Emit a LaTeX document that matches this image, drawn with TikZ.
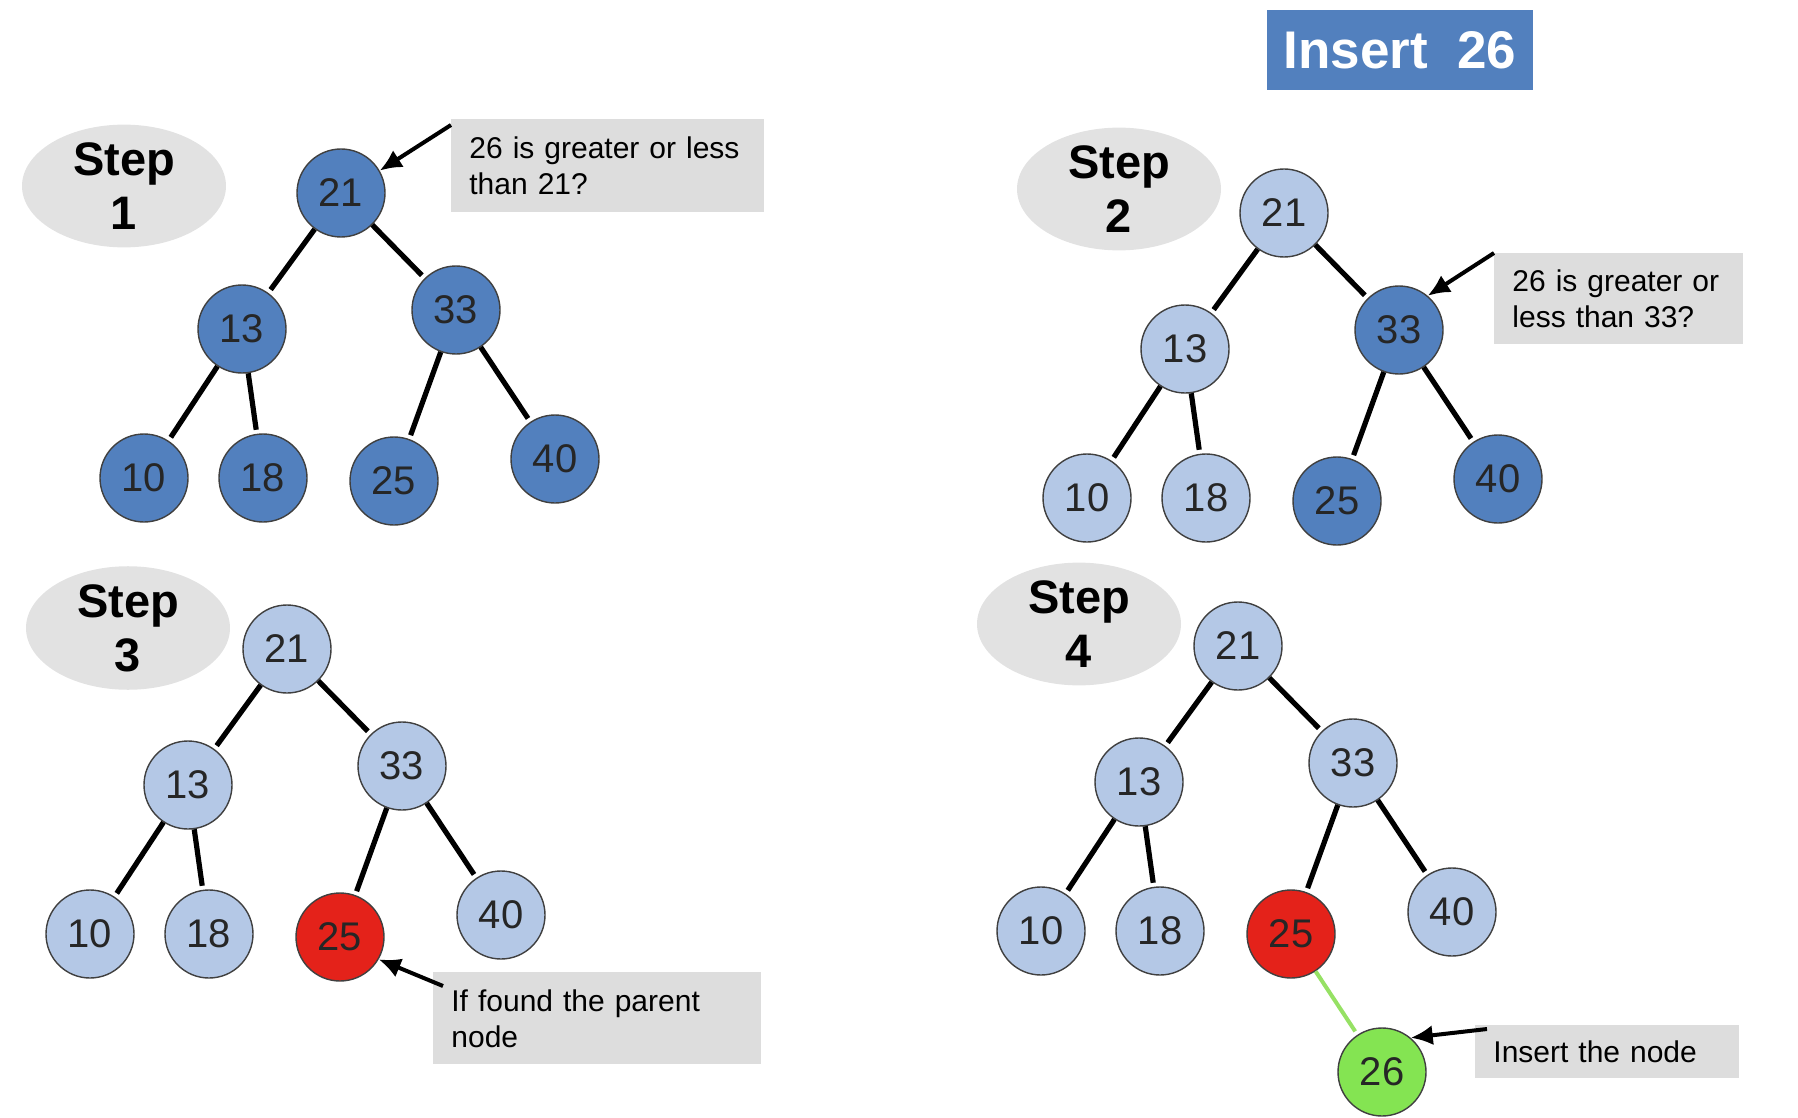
\documentclass[tikz,border=0pt]{standalone}
\usepackage{fontspec}
\setmainfont{Liberation Sans}
\usepackage{tikz}
\usetikzlibrary{
  arrows.meta,
  positioning,
  shapes.geometric
}
\definecolor{treeblue}{RGB}{82,128,190}
\definecolor{paleblue}{RGB}{180,200,230}
\definecolor{keyred}{RGB}{228,34,26}
\definecolor{keygreen}{RGB}{132,228,82}
\definecolor{linkgreen}{RGB}{150,225,100}
\definecolor{notegray}{RGB}{221,221,221}
\definecolor{stepgray}{RGB}{226,226,226}

\begin{document}
\begin{tikzpicture}[x=0.5pt,y=-0.5pt,
  key/.style={circle, draw=black!75, line width=0.7pt, minimum size=44pt,
    inner sep=0pt, text=black!85, font=\fontsize{20}{20}\selectfont},
  edge/.style={line width=2.6pt, shorten >=2pt},
  stepbox/.style={ellipse, fill=stepgray, minimum width=102pt, minimum height=60pt,
    inner sep=0pt, align=center, font=\bfseries\fontsize{23.5}{27}\selectfont},
  note/.style={fill=notegray, anchor=north west, align=left, inner xsep=9pt,
    font=\fontsize{15}{18}\selectfont},
  pointer/.style={-{Latex[length=11pt,width=10pt]}, line width=2pt}
]
  \useasboundingbox (0,0) rectangle (1798,1118);
  % Helper to draw one tree: \bstree{name}{x}{y}{upper colour}{33}{25}{40}
  \newcommand{\bstree}[7]{%
    \begin{scope}[shift={(#2,#3)}]
      \node[key, fill=#4] (#1-21) at (0,0) {21};
      \node[key, fill=#4] (#1-13) at (-99,136) {13};
      \node[key, fill=#5] (#1-33) at (115,117) {33};
      \node[key, fill=#4] (#1-10) at (-197,285) {10};
      \node[key, fill=#4] (#1-18) at (-78,285) {18};
      \node[key, fill=#6] (#1-25) at (53,288) {25};
      \node[key, fill=#7] (#1-40) at (214,266) {40};
    \end{scope}
    \draw[edge] (#1-21) -- (#1-13);
    \draw[edge] (#1-21) -- (#1-33);
    \draw[edge] (#1-13) -- (#1-10);
    \draw[edge] (#1-13) -- (#1-18);
    \draw[edge] (#1-33) -- (#1-25);
    \draw[edge] (#1-33) -- (#1-40);
  }
  % Title
  \node[fill=treeblue, text=white, minimum width=133pt, minimum height=39.6pt,
    font=\bfseries\fontsize{26.5}{28}\selectfont] (title) at (1400,50) {Insert\ \ 26};
  % Step 1: all nodes searched
  \node[stepbox] (step1) at (124,186) {Step\\1};
  \bstree{s1}{341}{193}{treeblue}{treeblue}{treeblue}{treeblue}
  \node[note, minimum width=156.5pt, minimum height=46.4pt, text width=138.5pt]
    (c1) at (451,119) {26 is greater or less\\than 21?};
  \draw[pointer] ([yshift=-3pt]c1.north west) -- (s1-21.30);
  % Step 2: right subtree
  \node[stepbox] (step2) at (1119,189) {Step\\2};
  \bstree{s2}{1284}{213}{paleblue}{treeblue}{treeblue}{treeblue}
  \node[note, minimum width=124.5pt, minimum height=45.3pt, text width=106.5pt]
    (c2) at (1494,253) {26 is greater or\\less than 33?};
  \draw[pointer] (c2.north west) -- (s2-33.50);
  % Step 3: parent found
  \node[stepbox] (step3) at (128,628) {Step\\3};
  \bstree{s3}{287}{649}{paleblue}{paleblue}{keyred}{paleblue}
  \node[note, minimum width=164pt, minimum height=45.9pt, text width=146pt]
    (c3) at (433,972) {If found the parent\\node};
  \draw[pointer] ([shift={(5pt,-7pt)}]c3.north west) -- (s3-25.330);
  % Step 4: new node
  \node[stepbox] (step4) at (1079,624) {Step\\4};
  \bstree{s4}{1238}{646}{paleblue}{paleblue}{keyred}{paleblue}
  \node[key, fill=keygreen] (s4-26) at (1382,1072) {26};
  \draw[edge, draw=linkgreen, line width=2pt] (s4-25) -- (s4-26);
  \node[note, minimum width=132pt, minimum height=26.4pt, text width=114pt]
    (c4) at (1475,1025) {Insert the node};
  \draw[pointer] ([shift={(6pt,-2pt)}]c4.north west) -- (s4-26.50);
\end{tikzpicture}
\end{document}
